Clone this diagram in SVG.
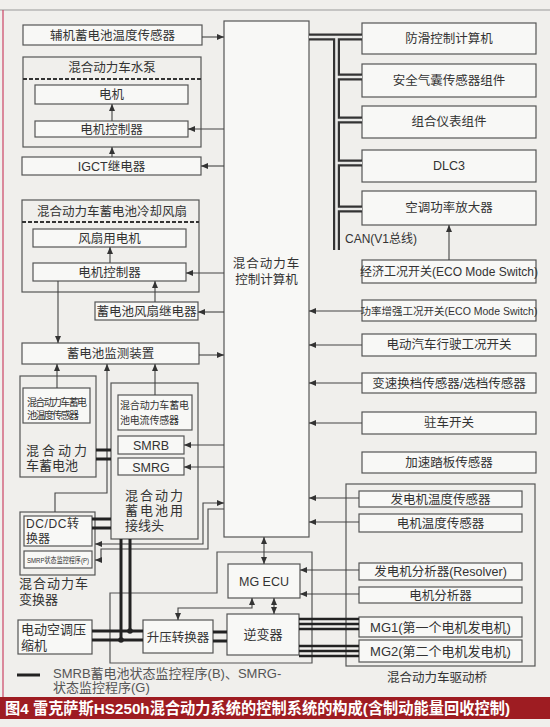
<svg xmlns="http://www.w3.org/2000/svg" width="550" height="727" viewBox="0 0 550 727">
<style>
text{font-family:"Liberation Sans","Noto Sans CJK SC",sans-serif;fill:#333;font-size:12.5px}
.b{fill:#f8f8f6;stroke:#555;stroke-width:1.2}
.g{fill:none;stroke:#555;stroke-width:1.2}
.c{text-anchor:middle}
.l{fill:none;stroke:#444;stroke-width:1.1}
.p{fill:none;stroke:#222;stroke-width:3}
.dash{stroke:#333;stroke-width:2;stroke-dasharray:4 2}
.sm{font-size:10px}
.big{font-size:13px}
</style>
<defs>
<marker id="a" markerWidth="7" markerHeight="6" refX="7" refY="3" orient="auto-start-reverse" markerUnits="userSpaceOnUse"><path d="M0,0L7,3L0,6z" fill="#333"/></marker>
</defs>
<rect x="0" y="0" width="550" height="727" fill="#f0efec"/>
<line x1="0" y1="10" x2="550" y2="10" stroke="#999" stroke-width="1"/>
<line x1="3" y1="10" x2="3" y2="697" stroke="#c46" stroke-width="1.2"/>

<!-- left column -->
<g id="aux-temp"><rect class="b" x="23" y="25" width="179" height="20"/><text class="c" x="112.5" y="40">辅机蓄电池温度传感器</text></g>
<g id="water-pump"><rect class="g" x="23" y="57" width="178" height="90"/><text class="c" x="112" y="72">混合动力车水泵</text><line class="dash" x1="23" y1="79" x2="201" y2="79"/></g>
<g id="pump-motor"><rect class="b" x="35" y="85" width="153" height="19"/><text class="c" x="111.5" y="99">电机</text></g>
<g id="pump-ctrl"><rect class="b" x="35" y="121" width="153" height="16"/><text class="c" x="111.5" y="134">电机控制器</text></g>
<g id="igct"><rect class="b" x="22" y="157" width="179" height="18"/><text class="c" x="111.5" y="171">IGCT继电器</text></g>

<g id="fan"><rect class="g" x="22" y="200" width="177" height="92"/><text class="c" x="112" y="216">混合动力车蓄电池冷却风扇</text><line class="dash" x1="22" y1="222" x2="199" y2="222"/></g>
<g id="fan-motor"><rect class="b" x="33" y="229" width="153" height="18"/><text class="c" x="109.5" y="243">风扇用电机</text></g>
<g id="fan-ctrl"><rect class="b" x="33" y="263" width="153" height="18"/><text class="c" x="109.5" y="277">电机控制器</text></g>
<g id="fan-relay"><rect class="b" x="95" y="302" width="103" height="18"/><text class="c" x="146.5" y="316">蓄电池风扇继电器</text></g>
<g id="monitor"><rect class="b" x="22" y="343" width="177" height="21"/><text class="c" x="110.5" y="358">蓄电池监测装置</text></g>

<g id="battery"><rect class="g" x="20" y="376" width="76" height="101"/><text class="big" x="26" y="455" letter-spacing="3">混合动力</text><text class="big" x="26" y="470">车蓄电池</text></g>
<g id="bat-temp"><rect class="b" x="23" y="388" width="67" height="35"/><text class="sm" x="27" y="406" textLength="60">混合动力车蓄电</text><text class="sm" x="27" y="419" textLength="52">池温度传感器</text></g>

<g id="junction"><rect class="g" x="111" y="383" width="87" height="156"/><text class="big" x="125" y="500" letter-spacing="2">混合动力</text><text class="big" x="125" y="515" letter-spacing="2">蓄电池用</text><text class="big" x="125" y="530">接线头</text></g>
<g id="cur-sensor"><rect class="b" x="118" y="395" width="74" height="35"/><text class="sm" x="120" y="409" textLength="69">混合动力车蓄电</text><text class="sm" x="120" y="424" textLength="59">池电流传感器</text></g>
<g id="smrb"><rect class="b" x="118" y="436" width="66" height="18"/><text class="c" x="151" y="450">SMRB</text></g>
<g id="smrg"><rect class="b" x="118" y="458" width="66" height="17"/><text class="c" x="151" y="471.5">SMRG</text></g>

<g id="converter"><rect class="g" x="20" y="512" width="75" height="63"/><text class="big" x="19" y="588" letter-spacing="1">混合动力车</text><text class="big" x="19" y="604">变换器</text></g>
<g id="dcdc"><rect class="b" x="24" y="516" width="68" height="30"/><text x="26" y="528" style="font-size:12px" letter-spacing="0.6">DC/DC转</text><text x="26" y="543" style="font-size:12px">换器</text></g>
<g id="smrp"><rect class="b" x="24" y="551" width="68" height="17"/><text x="27" y="563" style="font-size:8px" textLength="62" lengthAdjust="spacingAndGlyphs">SMRP状态监控程序(P)</text></g>

<g id="compressor"><rect class="b" x="18" y="620" width="74" height="34"/><text class="big" x="21" y="634">电动空调压</text><text class="big" x="21" y="650">缩机</text></g>

<!-- central -->
<g id="hv-ecu"><rect class="b" x="224" y="21" width="85" height="516"/><text class="c" x="266.5" y="268" letter-spacing="1">混合动力车</text><text class="c" x="266.5" y="284">控制计算机</text></g>

<!-- lower middle -->
<g id="pcu"><path class="g" d="M110 593 H217 V552 H312 V663 H110 Z"/></g>
<g id="mg-ecu"><rect class="b" x="228" y="564" width="72" height="34"/><text class="c" x="264" y="586">MG ECU</text></g>
<g id="boost"><rect class="b" x="143" y="620" width="70" height="33"/><text class="c" x="178" y="642">升压转换器</text></g>
<g id="inverter"><rect class="b" x="227" y="614" width="72" height="41"/><text class="c big" x="263" y="639">逆变器</text></g>

<!-- right column -->
<g id="abs"><rect class="b" x="362" y="23" width="174" height="31"/><text class="c" x="449" y="43">防滑控制计算机</text></g>
<g id="airbag"><rect class="b" x="362" y="64" width="174" height="33"/><text class="c" x="449" y="85">安全气囊传感器组件</text></g>
<g id="meter"><rect class="b" x="362" y="106" width="174" height="32"/><text class="c" x="449" y="126">组合仪表组件</text></g>
<g id="dlc3"><rect class="b" x="362" y="150" width="174" height="32"/><text class="c" x="449" y="170">DLC3</text></g>
<g id="ac-amp"><rect class="b" x="362" y="191" width="174" height="34"/><text class="c" x="449" y="212">空调功率放大器</text></g>
<g id="eco"><rect class="b" x="362" y="260" width="174" height="23"/><text class="c" x="449" y="276" style="font-size:12px">经济工况开关(ECO Mode Switch)</text></g>
<g id="power"><rect class="b" x="362" y="300" width="174" height="21"/><text class="c" x="449" y="315" style="font-size:10.5px">功率增强工况开关(ECO Mode Switch)</text></g>
<g id="ev"><rect class="b" x="362" y="334" width="174" height="22"/><text class="c" x="449" y="349">电动汽车行驶工况开关</text></g>
<g id="shift"><rect class="b" x="362" y="373" width="174" height="20"/><text class="c" x="449" y="387.5">变速换档传感器/选档传感器</text></g>
<g id="parking"><rect class="b" x="362" y="412" width="174" height="22"/><text class="c" x="449" y="427">驻车开关</text></g>
<g id="accel"><rect class="b" x="362" y="452" width="174" height="21"/><text class="c" x="449" y="467">加速踏板传感器</text></g>

<g id="transaxle"><rect class="g" x="346" y="484" width="189" height="182"/><text class="c" x="437" y="682">混合动力车驱动桥</text></g>
<g id="gen-temp"><rect class="b" x="359" y="491" width="163" height="16"/><text class="c" x="440.5" y="503.5">发电机温度传感器</text></g>
<g id="mot-temp"><rect class="b" x="359" y="514" width="163" height="18"/><text class="c" x="440.5" y="527.5">电机温度传感器</text></g>
<g id="gen-res"><rect class="b" x="359" y="563" width="163" height="17"/><text class="c" x="440.5" y="576">发电机分析器(Resolver)</text></g>
<g id="mot-res"><rect class="b" x="359" y="587" width="163" height="16"/><text class="c" x="440.5" y="599.5">电机分析器</text></g>
<g id="mg1"><rect class="b" x="359" y="617" width="163" height="20"/><text class="c big" x="440.5" y="632">MG1(第一个电机发电机)</text></g>
<g id="mg2"><rect class="b" x="359" y="640" width="163" height="22"/><text class="c big" x="440.5" y="656">MG2(第二个电机发电机)</text></g>

<!-- connectors -->
<g id="connectors">
<path d="M309 37 H362 M336.5 37 V250 M336.5 77 H362 M336.5 120 H362 M336.5 163 H362 M336.5 209 H362" fill="none" stroke="#333" stroke-width="7"/>
<path d="M309 37 H362 M336.5 37 V250 M336.5 77 H362 M336.5 120 H362 M336.5 163 H362 M336.5 209 H362" fill="none" stroke="#e8e8e6" stroke-width="2.6"/>
<text x="345" y="243" style="font-size:12px">CAN(V1总线)</text>

<path class="l" marker-end="url(#a)" d="M202 37 H224"/>
<path class="l" marker-end="url(#a)" d="M224 129 H188"/>
<path class="l" marker-end="url(#a)" d="M224 166 H201"/>
<path class="l" marker-end="url(#a)" d="M112 157 V147"/>
<path class="l" marker-end="url(#a)" d="M112 121 V104"/>
<path class="l" marker-end="url(#a)" d="M224 273 H186"/>
<path class="l" marker-end="url(#a)" d="M224 312 H198"/>
<path class="l" marker-end="url(#a)" d="M155 302 V281"/>
<path class="l" marker-end="url(#a)" d="M110 263 V247"/>
<path class="l" marker-end="url(#a)" d="M58 281 V343"/>
<path class="l" marker-end="url(#a)" d="M199 355 H224"/>
<path class="l" marker-end="url(#a)" d="M57 388 V364"/>
<path class="l" marker-end="url(#a)" d="M155 395 V364"/>
<path class="l" marker-start="url(#a)" d="M107 364 V493 H55 V512"/>
<path class="l" marker-end="url(#a)" d="M224 445 H184"/>
<path class="l" marker-end="url(#a)" d="M224 467 H184"/>
<path class="l" marker-start="url(#a)" marker-end="url(#a)" d="M224 503 H203 V544 H95"/>
<path class="l" marker-end="url(#a)" d="M224 509 H208 V549 H101 V560 H95"/>

<path class="l" marker-end="url(#a)" d="M449 260 V225"/>
<path class="l" marker-end="url(#a)" d="M362 311 H309"/>
<path class="l" marker-end="url(#a)" d="M362 345 H309"/>
<path class="l" marker-end="url(#a)" d="M362 383 H309"/>
<path class="l" marker-end="url(#a)" d="M362 423 H309"/>
<path class="l" marker-end="url(#a)" d="M359 498 H309"/>
<path class="l" marker-end="url(#a)" d="M359 522 H309"/>
<path class="l" marker-end="url(#a)" d="M359 570 H300"/>
<path class="l" marker-end="url(#a)" d="M359 594 H300"/>

<path class="l" marker-start="url(#a)" marker-end="url(#a)" d="M264 537 V564"/>
<path class="l" marker-start="url(#a)" marker-end="url(#a)" d="M274 598 V614"/>
<path class="l" marker-start="url(#a)" marker-end="url(#a)" d="M252 598 V608 H178 V620"/>

<path class="p" d="M96 450 H111 M96 459 H111 M92 519 H111 M92 528 H111"/>
<path class="p" d="M121 539 V640 M130 539 V631 M92 631 H143 M92 640 H143"/>
<circle cx="130" cy="631" r="2.8" fill="#222"/>
<circle cx="121" cy="640" r="2.8" fill="#222"/>
<path class="p" d="M213 632 H227 M213 641 H227"/>
<path d="M299 619 H359 M299 624 H359 M299 629 H359 M299 646 H359 M299 651 H359 M299 656 H359" fill="none" stroke="#222" stroke-width="2.6"/>
</g>

<!-- legend -->
<g id="legend">
<line x1="17" y1="675" x2="40" y2="675" stroke="#222" stroke-width="3"/>
<text x="53" y="678" style="font-size:13px;fill:#555">SMRB蓄电池状态监控程序(B)、SMRG-</text>
<text x="53" y="692" style="font-size:13px;fill:#555">状态监控程序(G)</text>
</g>

<!-- caption -->
<g id="caption">
<rect x="0" y="697" width="550" height="22" fill="#9e1c22"/>
<text x="5" y="714" textLength="505" lengthAdjust="spacingAndGlyphs" style="font-size:15.5px;font-weight:bold;fill:#fff">图4 雷克萨斯HS250h混合动力系统的控制系统的构成(含制动能量回收控制)</text>
</g>
</svg>
